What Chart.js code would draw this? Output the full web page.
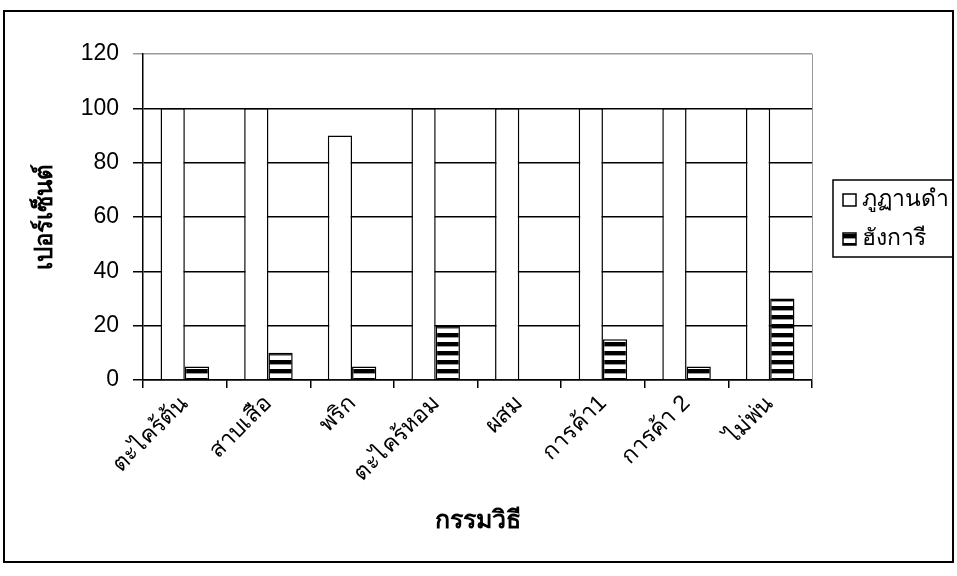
<!DOCTYPE html>
<html>
<head>
<meta charset="utf-8">
<script src="https://cdn.jsdelivr.net/npm/chart.js@4.4.1/dist/chart.umd.min.js"></script>
<style>
  html, body { margin: 0; padding: 0; background: #fff; }
  #wrap { width: 957px; height: 576px; }
</style>
</head>
<body>
<div id="wrap"><canvas id="chart"></canvas></div>
<script>
const categories = ["ตะไคร้ต้น", "สาบเสือ", "พริก", "ตะไคร้หอม", "ผสม", "การค้า1", "การค้า 2", "ไม่พ่น"];
const bhutanBlack = [100, 100, 90, 100, 100, 100, 100, 100];
const hungary = [5, 10, 5, 20, 0, 15, 5, 30];
const seriesNames = ["ภูฏานดำ", "ฮังการี"];
const yTicks = [0, 20, 40, 60, 80, 100, 120];

const FONT = "'Liberation Sans', Arial, sans-serif";

// horizontal stripe fill for the second series
const makeStripes = () => {
  const c = document.createElement("canvas");
  c.width = 9;
  c.height = 9;
  const g = c.getContext("2d");
  g.fillStyle = "#fff";
  g.fillRect(0, 0, 9, 9);
  g.fillStyle = "#000";
  g.fillRect(0, 0, 9, 4);
  g.fillStyle = "#999";
  g.fillRect(0, 4, 9, 1);
  return g.createPattern(c, "repeat");
};
const stripes = makeStripes();

const frame = {
  id: "frame",
  afterDraw(chart) {
    const ctx = chart.ctx;
    const a = chart.chartArea;
    ctx.save();
    // plot area right edge
    ctx.strokeStyle = "#999";
    ctx.lineWidth = 1;
    ctx.beginPath();
    ctx.moveTo(a.right + 0.5, a.top);
    ctx.lineTo(a.right + 0.5, a.bottom);
    ctx.stroke();
    // outer border
    ctx.strokeStyle = "#000";
    ctx.lineWidth = 2;
    ctx.strokeRect(4, 11, 949, 551);
    // legend
    ctx.lineWidth = 1.5;
    ctx.strokeRect(833, 180, 120, 77);
    ctx.font = "23px " + FONT;
    ctx.textBaseline = "middle";
    ctx.textAlign = "left";
    chart.data.datasets.forEach((ds, i) => {
      const y = 200 + i * 39;
      ctx.fillStyle = ds.backgroundColor;
      ctx.fillRect(843, y - 6, 13, 12);
      ctx.strokeStyle = "#000";
      ctx.lineWidth = 1.5;
      ctx.strokeRect(843, y - 6, 13, 12);
      ctx.fillStyle = "#000";
      ctx.fillText(ds.label, 862, y);
    });
    ctx.restore();
  }
};

new Chart(document.getElementById("chart"), {
  type: "bar",
  data: {
    labels: categories,
    datasets: [
      {
        label: seriesNames[0],
        data: bhutanBlack,
        backgroundColor: "#fff",
        borderColor: "#000",
        borderWidth: 1.5
      },
      {
        label: seriesNames[1],
        data: hungary,
        backgroundColor: stripes,
        borderColor: "#000",
        borderWidth: 1.5
      }
    ]
  },
  options: {
    responsive: true,
    maintainAspectRatio: false,
    animation: false,
    categoryPercentage: 0.58,
    barPercentage: 1,
    layout: { padding: { left: 20, right: 145, top: 54, bottom: 30 } },
    plugins: {
      legend: { display: false },
      tooltip: { enabled: false }
    },
    scales: {
      x: {
        offset: true,
        grid: {
          offset: true,
          drawOnChartArea: false,
          drawTicks: true,
          tickLength: 8,
          color: "#000",
          lineWidth: 1.5
        },
        border: { color: "#000", width: 1.5 },
        ticks: {
          color: "#000",
          font: { family: FONT, size: 23 },
          maxRotation: 45,
          minRotation: 45,
          padding: 2
        },
        title: {
          display: true,
          text: "กรรมวิธี",
          color: "#000",
          font: { family: FONT, size: 25, weight: "bold" },
          padding: { top: 0, bottom: 10 }
        },
        afterFit: (s) => { s.height = 166; }
      },
      y: {
        min: 0,
        max: 120,
        afterBuildTicks: (s) => { s.ticks = yTicks.map((v) => ({ value: v })); },
        grid: {
          color: (c) => (c.tick && c.tick.value === 120 ? "#999" : "#000"),
          lineWidth: 1.5,
          tickLength: 10
        },
        border: { color: "#000", width: 1.5 },
        ticks: {
          color: "#000",
          font: { family: FONT, size: 23 },
          padding: 14
        },
        title: {
          display: true,
          text: "เปอร์เซ็นต์",
          color: "#000",
          font: { family: FONT, size: 24, weight: "bold" },
          padding: { top: 11, bottom: 0 }
        },
        afterFit: (s) => { s.width = 123; }
      }
    }
  },
  plugins: [frame]
});
</script>
</body>
</html>
